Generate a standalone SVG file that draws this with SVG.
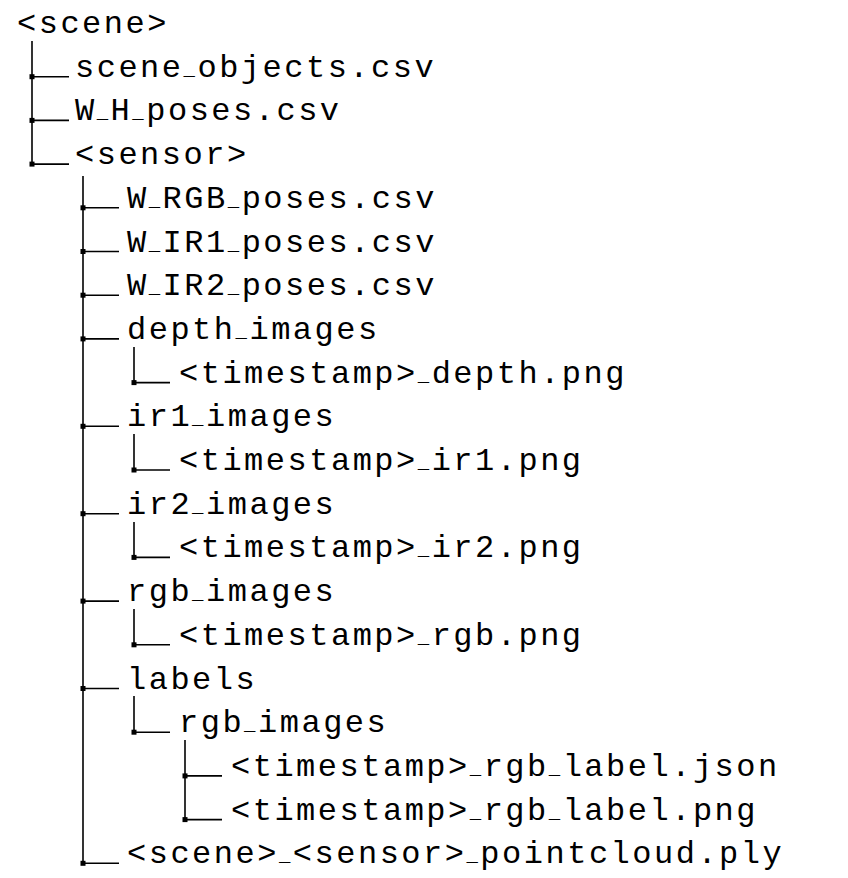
<svg xmlns="http://www.w3.org/2000/svg" width="848" height="878" viewBox="0 0 848 878">
<style>
text{font-family:"Liberation Mono","Courier New",monospace;font-size:32px;letter-spacing:2.5px;fill:#000}
.u{font-size:19px}
.c line{stroke:#000;stroke-width:1.6}
.c rect{fill:#000}
</style>
<rect width="848" height="878" fill="#fff"/>
<g id="connectors" class="c">
<line x1="32" y1="41" x2="32" y2="164.1"/>
<line x1="32" y1="76.7" x2="69" y2="76.7"/><rect x="29.5" y="74.2" width="5" height="5"/>
<line x1="32" y1="120.4" x2="69" y2="120.4"/><rect x="29.5" y="117.9" width="5" height="5"/>
<line x1="32" y1="164.1" x2="69" y2="164.1"/><rect x="29.5" y="161.6" width="5" height="5"/>
<line x1="83" y1="176" x2="83" y2="863.3"/>
<line x1="83" y1="207.8" x2="119" y2="207.8"/><rect x="80.5" y="205.3" width="5" height="5"/>
<line x1="83" y1="251.5" x2="119" y2="251.5"/><rect x="80.5" y="249" width="5" height="5"/>
<line x1="83" y1="295.2" x2="119" y2="295.2"/><rect x="80.5" y="292.7" width="5" height="5"/>
<line x1="83" y1="338.9" x2="119" y2="338.9"/><rect x="80.5" y="336.4" width="5" height="5"/>
<line x1="83" y1="426.3" x2="119" y2="426.3"/><rect x="80.5" y="423.8" width="5" height="5"/>
<line x1="83" y1="513.7" x2="119" y2="513.7"/><rect x="80.5" y="511.2" width="5" height="5"/>
<line x1="83" y1="601.1" x2="119" y2="601.1"/><rect x="80.5" y="598.6" width="5" height="5"/>
<line x1="83" y1="688.5" x2="119" y2="688.5"/><rect x="80.5" y="686" width="5" height="5"/>
<line x1="83" y1="863.3" x2="119" y2="863.3"/><rect x="80.5" y="860.8" width="5" height="5"/>
<line x1="134" y1="347" x2="134" y2="382.6"/>
<line x1="134" y1="382.6" x2="170" y2="382.6"/><rect x="131.5" y="380.1" width="5" height="5"/>
<line x1="134" y1="434" x2="134" y2="470"/>
<line x1="134" y1="470" x2="170" y2="470"/><rect x="131.5" y="467.5" width="5" height="5"/>
<line x1="134" y1="522" x2="134" y2="557.4"/>
<line x1="134" y1="557.4" x2="170" y2="557.4"/><rect x="131.5" y="554.9" width="5" height="5"/>
<line x1="134" y1="609" x2="134" y2="644.8"/>
<line x1="134" y1="644.8" x2="170" y2="644.8"/><rect x="131.5" y="642.3" width="5" height="5"/>
<line x1="134" y1="696" x2="134" y2="732.2"/>
<line x1="134" y1="732.2" x2="170" y2="732.2"/><rect x="131.5" y="729.7" width="5" height="5"/>
<line x1="185" y1="740" x2="185" y2="819.6"/>
<line x1="185" y1="775.9" x2="222" y2="775.9"/><rect x="182.5" y="773.4" width="5" height="5"/>
<line x1="185" y1="819.6" x2="222" y2="819.6"/><rect x="182.5" y="817.1" width="5" height="5"/>
</g>
<g id="scene"><text x="17" y="33">&lt;scene&gt;</text></g>
<g id="scene_objects"><text x="75" y="76.7">scene<tspan class="u" dy="-2">_</tspan><tspan dy="2">objects.csv</tspan></text></g>
<g id="W_H_poses"><text x="75" y="120.4">W<tspan class="u" dy="-2">_</tspan><tspan dy="2">H</tspan><tspan class="u" dy="-2">_</tspan><tspan dy="2">poses.csv</tspan></text></g>
<g id="sensor"><text x="75" y="164.1">&lt;sensor&gt;</text></g>
<g id="W_RGB_poses"><text x="127" y="207.8">W<tspan class="u" dy="-2">_</tspan><tspan dy="2">RGB</tspan><tspan class="u" dy="-2">_</tspan><tspan dy="2">poses.csv</tspan></text></g>
<g id="W_IR1_poses"><text x="127" y="251.5">W<tspan class="u" dy="-2">_</tspan><tspan dy="2">IR1</tspan><tspan class="u" dy="-2">_</tspan><tspan dy="2">poses.csv</tspan></text></g>
<g id="W_IR2_poses"><text x="127" y="295.2">W<tspan class="u" dy="-2">_</tspan><tspan dy="2">IR2</tspan><tspan class="u" dy="-2">_</tspan><tspan dy="2">poses.csv</tspan></text></g>
<g id="depth_images"><text x="127" y="338.9">depth<tspan class="u" dy="-2">_</tspan><tspan dy="2">images</tspan></text></g>
<g id="depth_png"><text x="179" y="382.6">&lt;timestamp&gt;<tspan class="u" dy="-2">_</tspan><tspan dy="2">depth.png</tspan></text></g>
<g id="ir1_images"><text x="127" y="426.3">ir1<tspan class="u" dy="-2">_</tspan><tspan dy="2">images</tspan></text></g>
<g id="ir1_png"><text x="179" y="470">&lt;timestamp&gt;<tspan class="u" dy="-2">_</tspan><tspan dy="2">ir1.png</tspan></text></g>
<g id="ir2_images"><text x="127" y="513.7">ir2<tspan class="u" dy="-2">_</tspan><tspan dy="2">images</tspan></text></g>
<g id="ir2_png"><text x="179" y="557.4">&lt;timestamp&gt;<tspan class="u" dy="-2">_</tspan><tspan dy="2">ir2.png</tspan></text></g>
<g id="rgb_images"><text x="127" y="601.1">rgb<tspan class="u" dy="-2">_</tspan><tspan dy="2">images</tspan></text></g>
<g id="rgb_png"><text x="179" y="644.8">&lt;timestamp&gt;<tspan class="u" dy="-2">_</tspan><tspan dy="2">rgb.png</tspan></text></g>
<g id="labels"><text x="127" y="688.5">labels</text></g>
<g id="labels_rgb_images"><text x="179" y="732.2">rgb<tspan class="u" dy="-2">_</tspan><tspan dy="2">images</tspan></text></g>
<g id="rgb_label_json"><text x="231" y="775.9">&lt;timestamp&gt;<tspan class="u" dy="-2">_</tspan><tspan dy="2">rgb</tspan><tspan class="u" dy="-2">_</tspan><tspan dy="2">label.json</tspan></text></g>
<g id="rgb_label_png"><text x="231" y="819.6">&lt;timestamp&gt;<tspan class="u" dy="-2">_</tspan><tspan dy="2">rgb</tspan><tspan class="u" dy="-2">_</tspan><tspan dy="2">label.png</tspan></text></g>
<g id="pointcloud"><text x="127" y="863.3">&lt;scene&gt;<tspan class="u" dy="-2">_</tspan><tspan dy="2">&lt;sensor&gt;</tspan><tspan class="u" dy="-2">_</tspan><tspan dy="2">pointcloud.ply</tspan></text></g>
</svg>
